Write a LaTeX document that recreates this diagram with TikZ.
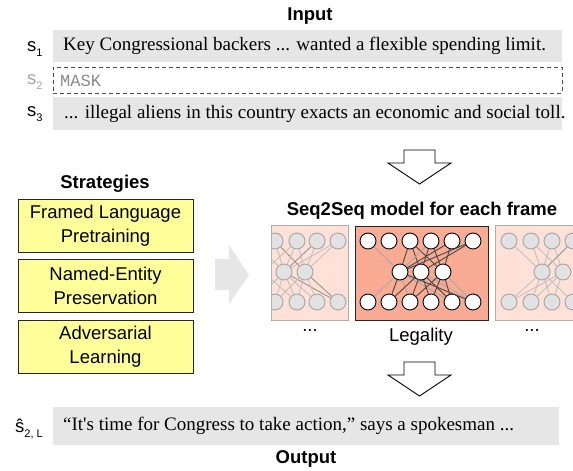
\documentclass[tikz,border=0pt]{standalone}
\usepackage{fontspec}
\setmainfont{Liberation Serif}
\setsansfont{Liberation Sans}
\setmonofont{Liberation Mono}

\definecolor{barfill}{HTML}{E6E6E6}
\definecolor{boxyellow}{HTML}{FFFF99}
\definecolor{sidefill}{HTML}{FFE1D8}
\definecolor{sideborder}{HTML}{B4AAA8}
\definecolor{mainfill}{HTML}{F9AB93}
\definecolor{nodegrey}{HTML}{E2E2E2}
\definecolor{nodeedge}{HTML}{A4A4A4}
\definecolor{darkedge}{HTML}{474747}
\definecolor{lightedge}{HTML}{A8A8A8}
\definecolor{sidelight}{HTML}{BDBDBD}
\definecolor{sidedark}{HTML}{8E8E8E}
\definecolor{maskgrey}{HTML}{8A8A8A}

\begin{document}
\begin{tikzpicture}[x=1pt,y=-1pt,
  heading/.style={font=\sffamily\bfseries\fontsize{18.5}{22}\selectfont, inner sep=0pt},
  sanstext/.style={font=\sffamily\fontsize{18.5}{24}\selectfont, inner sep=0pt, align=center},
  serifline/.style={font=\fontsize{19}{22}\selectfont, inner sep=0pt, anchor=west},
  bar/.style={fill=barfill, draw=none, inner sep=0pt, anchor=north west},
  maskbar/.style={draw=black!70, dashed, dash pattern=on 4pt off 3pt, line width=0.9pt, inner sep=0pt, anchor=north west},
  slabel/.style={font=\sffamily\fontsize{18.5}{22}\selectfont, inner sep=0pt, anchor=base west},
  strategy/.style={draw=black!85, line width=0.9pt, fill=boxyellow, minimum width=175pt, minimum height=53pt,
                   inner sep=0pt, font=\sffamily\fontsize{18.5}{24}\selectfont, align=center},
  blockarrow/.style={draw=black, line width=0.9pt, fill=white, line join=miter},
  sidepanel/.style={draw=sideborder, line width=0.9pt, fill=sidefill},
  mainpanel/.style={draw=black!85, line width=1pt, fill=mainfill},
  netnode/.style={circle, draw=black, line width=0.9pt, fill=white, minimum size=16pt, inner sep=0pt},
  sidenode/.style={circle, draw=nodeedge, line width=0.9pt, fill=nodegrey, minimum size=16pt, inner sep=0pt},
  dk/.style={draw=darkedge, line width=0.9pt},
  lt/.style={draw=lightedge, line width=0.9pt},
  sdk/.style={draw=sidedark, line width=0.8pt},
  slt/.style={draw=sidelight, line width=0.8pt}
]
\useasboundingbox (0,0) rectangle (573,471);
\newcommand{\sub}[1]{\raisebox{-5pt}{\fontsize{11}{11}\selectfont #1}}

% ---------------- Input sentences ----------------
\node[heading] (input) at (310,16) {Input};

\node[bar, minimum width=509pt, minimum height=32pt] (bar1) at (53,30) {};
\node[serifline] (txt1) at ([xshift=10pt]bar1.west) {Key Congressional backers ... wanted a flexible spending limit.};
\node[slabel] (lab1) at (27,51) {s\sub{1}};

\node[maskbar, minimum width=509pt, minimum height=26pt] (bar2) at (53,67) {};
\node[anchor=west, inner sep=0pt, font=\ttfamily\fontsize{17}{20}\selectfont, text=maskgrey] (txt2) at ([xshift=7pt]bar2.west) {MASK};
\node[slabel, text=black!35] (lab2) at (27,84) {s\sub{2}};

\node[bar, minimum width=509pt, minimum height=33pt] (bar3) at (53,97) {};
\node[serifline] (txt3) at ([xshift=11pt]bar3.west) {... illegal aliens in this country exacts an economic and social toll.};
\node[slabel] (lab3) at (27,116) {s\sub{3}};

% ---------------- block arrow into the models ----------------
\draw[blockarrow] (404,150) -- (435,150) -- (435,163) -- (451,163) -- (419.5,184)
  -- (388,163) -- (404,163) -- cycle;

% ---------------- Strategies ----------------
\node[heading] (strat) at (105,184) {Strategies};
\node[strategy] (st1) at (105.5,225.5) {Framed Language\\Pretraining};
\node[strategy] (st2) at (105.5,286) {Named-Entity\\Preservation};
\node[strategy] (st3) at (105.5,346.5) {Adversarial\\Learning};

% grey arrow from strategies to models
\fill[barfill] (215,259) -- (229,259) -- (229,245) -- (249,275) -- (229,304)
  -- (229,290) -- (215,290) -- cycle;

% ---------------- Seq2Seq models ----------------
\node[heading] (seqhead) at (422,211) {Seq2Seq model for each frame};

% left frame (partly shown)
\begin{scope}
  \path[sidepanel] (271,225) rectangle (348,320);
  \clip (271.5,225.5) rectangle (347.5,319.5);
  \foreach \n/\x in {0/254,1/275,2/297,3/317,4/338} {
    \node[sidenode] (lt\n) at (\x,241) {};
    \node[sidenode] (lb\n) at (\x,302) {};
  }
  \foreach \n/\x in {0/263,1/284,2/305} \node[sidenode] (lm\n) at (\x,272) {};
  \draw[slt] (lt1) -- (lm1);  \draw[sdk] (lt1) -- (lm2);
  \draw[slt] (lt2) -- (lm1);  \draw[slt] (lt2) -- (lm0);
  \draw[sdk] (lt3) -- (lm1);  \draw[slt] (lt3) -- (lm2);
  \draw[slt] (lt4) -- (lm1);  \draw[slt] (lt4) -- (lm2);
  \draw[slt] (lt0) -- (lm1);  \draw[slt] (lt2) -- (lm2);
  \draw[slt] (lm0) -- (lb1);  \draw[slt] (lm0) -- (lb2);
  \draw[slt] (lm1) -- (lb1);  \draw[slt] (lm1) -- (lb2);
  \draw[slt] (lm1) -- (lb3);  \draw[sdk] (lm1) -- (lb4);
  \draw[slt] (lm2) -- (lb2);  \draw[slt] (lm2) -- (lb3);
  \draw[sdk] (lm2) -- (lb4);  \draw[slt] (lm1) -- (lb0);
  \draw[slt] (lm2) -- (lb1);
\end{scope}
\draw[sideborder, line width=0.9pt] (271,225) rectangle (348,320);

% centre frame
\path[mainpanel] (355,226) rectangle (488,320);
\foreach \n/\x in {1/368,2/389,3/410,4/431,5/452,6/473} {
  \node[netnode] (ct\n) at (\x,241) {};
  \node[netnode] (cb\n) at (\x,302) {};
}
\foreach \n/\x in {1/400,2/421,3/443} \node[netnode] (cm\n) at (\x,272) {};
\draw[lt] (ct1) -- (cm1);
\draw[dk] (ct3) -- (cm1);  \draw[dk] (ct3) -- (cm2);  \draw[dk] (ct3) -- (cm3);
\draw[lt] (ct4) -- (cm1);  \draw[dk] (ct4) -- (cm2);  \draw[dk] (ct4) -- (cm3);
\draw[dk] (ct5) -- (cm1);  \draw[dk] (ct5) -- (cm3);
\draw[dk] (ct6) -- (cm1);  \draw[dk] (ct6) -- (cm2);
\draw[lt] (cm1) -- (cb1);  \draw[dk] (cm1) -- (cb2);  \draw[lt] (cm1) -- (cb3);
\draw[lt] (cm1) -- (cb5);  \draw[dk] (cm1) -- (cb6);
\draw[dk] (cm2) -- (cb2);  \draw[dk] (cm2) -- (cb3);  \draw[dk] (cm2) -- (cb4);
\draw[dk] (cm2) -- (cb5);  \draw[lt] (cm2) -- (cb6);
\draw[dk] (cm3) -- (cb3);  \draw[dk] (cm3) -- (cb4);  \draw[dk] (cm3) -- (cb5);
\draw[lt] (cm3) -- (cb6);

% right frame (partly shown)
\begin{scope}
  \path[sidepanel] (495,225) rectangle (590,320);
  \clip (495.5,225.5) rectangle (590,319.5);
  \foreach \n/\x in {1/509,2/531,3/552,4/573} {
    \node[sidenode] (rt\n) at (\x,241) {};
    \node[sidenode] (rb\n) at (\x,302) {};
  }
  \foreach \n/\x in {1/542,2/563} \node[sidenode] (rm\n) at (\x,272) {};
  \draw[slt] (rt1) -- (rm1);  \draw[slt] (rt2) -- (rm1);
  \draw[slt] (rt3) -- (rm1);  \draw[slt] (rt3) -- (rm2);
  \draw[sdk] (rt4) -- (rm1);  \draw[slt] (rt2) -- (rm2);
  \draw[slt] (rm1) -- (rb1);  \draw[slt] (rm1) -- (rb2);
  \draw[slt] (rm1) -- (rb3);  \draw[slt] (rm1) -- (rb4);
  \draw[slt] (rm2) -- (rb2);  \draw[slt] (rm2) -- (rb3);
  \draw[slt] (rm2) -- (rb1);
\end{scope}
\draw[sideborder, line width=0.9pt] (590,225) -- (495,225) -- (495,320) -- (590,320);

% frame captions
\node[sanstext] (dotsl) at (310,331) {...};
\node[sanstext] (legal) at (421,337) {Legality};
\node[sanstext] (dotsr) at (532,331) {...};

% ---------------- block arrow to the output ----------------
\draw[blockarrow] (404,362) -- (435,362) -- (435,375) -- (451,375) -- (419.5,396)
  -- (388,375) -- (404,375) -- cycle;

% ---------------- Output sentence ----------------
\node[bar, minimum width=506pt, minimum height=38pt] (barout) at (53,407) {};
\node[serifline] (txtout) at ([xshift=10pt]barout.west) {“It\textquotesingle s time for Congress to take action,” says a spokesman ...};
\node[slabel] (labout) at (15,432) {ŝ\sub{2, L}};
\node[heading] (output) at (306,459) {Output};
\end{tikzpicture}
\end{document}
